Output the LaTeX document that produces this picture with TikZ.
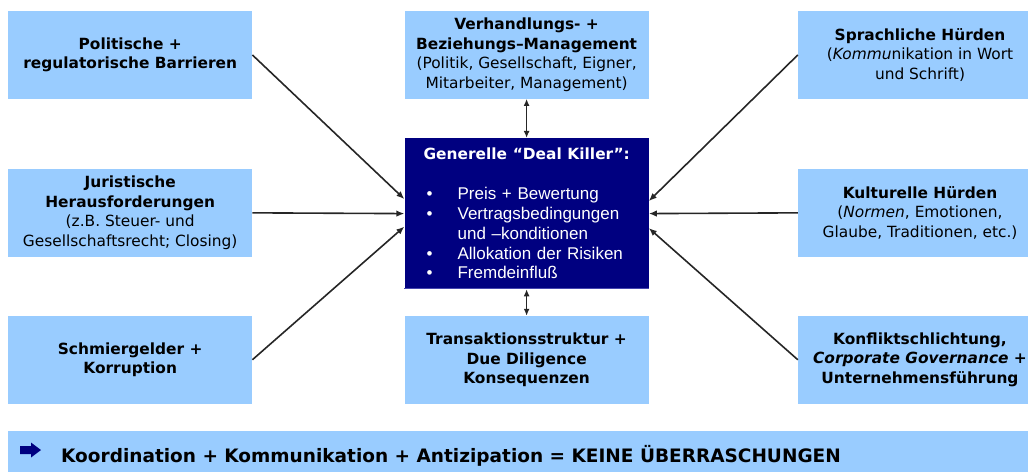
\documentclass[tikz,border=0pt]{standalone}
\usepackage{fontspec}
\setmainfont{DejaVu Sans}
\newfontfamily\arialfont{Liberation Sans}
\usepackage{tikz}
\usetikzlibrary{arrows.meta,calc,positioning}
\definecolor{lightblue}{RGB}{153,204,255}
\definecolor{darknavy}{RGB}{0,0,128}
\definecolor{navyedge}{RGB}{70,70,175}
\newcommand{\boxfont}{\fontsize{15.4}{19.5}\selectfont}
\newcommand{\dkitem}[1]{\hspace*{3pt}\makebox[31pt][l]{•}#1}

\begin{document}
\begin{tikzpicture}[x=1pt,y=1pt,
    lbox/.style={fill=lightblue, minimum width=244pt, minimum height=87.5pt, inner sep=2pt, align=center, font=\boxfont},
    dbox/.style={fill=darknavy, minimum width=244pt, minimum height=151pt, inner xsep=19pt, inner ysep=2pt, text width=206pt, align=left, text=white, font=\arialfont\fontsize{17}{19.7}\selectfont},
    conn/.style={-{Latex[length=8pt,width=6.5pt]}, line width=1.6pt, black!85},
    dconn/.style={{Latex[length=7pt,width=6pt]}-{Latex[length=7pt,width=6pt]}, line width=1.6pt, black!85}]
              \clip (0,0) rectangle (1028,-473);

              % Draw left column of boxes
              \node[lbox, anchor=north west] (PRB) at (8,-11) {\textbf{Politische +}\\\textbf{regulatorische Barrieren}};
              \node[lbox, below=70pt of PRB] (JH) {\textbf{Juristische}\\\textbf{Herausforderungen}\\(z.B. Steuer- und\\Gesellschaftsrecht; Closing)};
              \node[lbox, below=59pt of JH] (SK) {\textbf{Schmiergelder +}\\\textbf{Korruption}};

              % Draw middle column with the deal killer box
              \node[lbox, right=152pt of PRB] (VBM) {\textbf{Verhandlungs- +}\\\textbf{Beziehungs–Management}\\(Politik, Gesellschaft, Eigner,\\Mitarbeiter, Management)};
              \node[dbox, below=39pt of VBM] (DK) {{\rmfamily\bfseries\fontsize{15.4}{19.7}\selectfont Generelle “Deal Killer”:}\\[20.3pt]
                \dkitem{Preis + Bewertung}\\
                \dkitem{Vertragsbedingungen}\\
                \hspace*{34pt}und –konditionen\\
                \dkitem{Allokation der Risiken}\\
                \dkitem{Fremdeinfluß}};
              \draw[navyedge, line width=1.5pt] ($(DK.south west)+(0,0.75)$) -- ($(DK.south east)+(0,0.75)$);
              \node[lbox, right=152pt of SK] (TDD) {\textbf{Transaktionsstruktur +}\\\textbf{Due Diligence}\\\textbf{Konsequenzen}};

              % Draw right column of boxes
              \node[lbox, right=149pt of VBM] (SH) {\textbf{Sprachliche Hürden}\\(\textit{Kommu}nikation in Wort\\und Schrift)};
              \node[lbox, below=70pt of SH] (KH) {\textbf{Kulturelle Hürden}\\(\textit{Normen}, Emotionen,\\Glaube, Traditionen, etc.)};
              \node[lbox, below=59pt of KH] (KGU) {\textbf{Konfliktschlichtung,}\\\textbf{\textit{Corporate Governance} +}\\\textbf{Unternehmensführung}};

              % Draw arrows into the deal killer box
              \draw[conn] (PRB.east) -- ($(DK.west)+(0,14.5)$);
              \draw[conn] (JH.east) -- (DK.west);
              \draw[conn] (SK.east) -- ($(DK.west)+(0,-13)$);
              \draw[conn] (SH.west) -- ($(DK.east)+(0,12.5)$);
              \draw[conn] (KH.west) -- (DK.east);
              \draw[conn] (KGU.west) -- ($(DK.east)+(0,-14.5)$);
              \draw[dconn] (VBM) -- (DK);
              \draw[dconn] (DK) -- (TDD);

              % Draw bottom bar with the conclusion
              \node[fill=lightblue, minimum width=1040pt, minimum height=41pt, inner sep=0pt, anchor=north west] (KKA) at (8,-431) {};
              \fill[darknavy] (20,-446) -- (31,-446) -- (31,-442.5) -- (41,-450) -- (31,-457.5) -- (31,-454) -- (20,-454) -- cycle;
              \node[anchor=base west, inner sep=0pt, font=\bfseries\fontsize{18.5}{21}\selectfont] (KKAtext) at (61,-462) {Koordination + Kommunikation + Antizipation = KEINE ÜBERRASCHUNGEN};
          \end{tikzpicture}
\end{document}
